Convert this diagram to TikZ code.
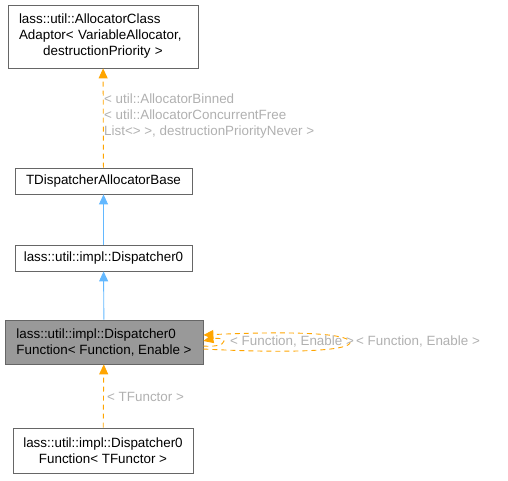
\documentclass[tikz,border=0pt]{standalone}
\usepackage{fontspec}
\setmainfont{Liberation Sans}
\usetikzlibrary{arrows.meta}

\definecolor{edgeorange}{HTML}{FFA500}
\definecolor{edgeblue}{HTML}{63B8FF}
\definecolor{labelgray}{HTML}{B0B0B0}
\definecolor{boxgray}{HTML}{999999}
\definecolor{boxline}{HTML}{666666}

\begin{document}
\begin{tikzpicture}[x=1pt, y=-1pt,
        font=\fontsize{13.4}{16}\selectfont,
        cls/.style={draw=boxline, fill=white, line width=0.8pt, inner ysep=2pt},
        lcls/.style={cls, align=left, inner xsep=11pt},
        tmpl/.style={edgeorange, dashed, line width=0.9pt, dash pattern=on 5pt off 4pt,
            -{Triangle[length=10pt, width=9pt]}},
        inh/.style={edgeblue, line width=0.9pt, -{Triangle[length=10pt, width=9pt]}},
        lbl/.style={text=labelgray, align=left, inner sep=1pt, anchor=west}]
    \useasboundingbox (0, 0) rectangle (508, 480);

    % classes
    \node[lcls, text width=168pt, minimum height=63pt] (adaptor) at (103, 36.5)
        {lass::util::AllocatorClass\\Adaptor< VariableAllocator,\\
         \hspace*{\fill}destructionPriority >\hspace*{\fill}\null};
    \node[cls, minimum width=177pt, minimum height=26pt] (allocbase) at (103.5, 181)
        {TDispatcherAllocatorBase};
    \node[cls, minimum width=177pt, minimum height=26pt] (dispatcher) at (103.5, 258)
        {lass::util::impl::Dispatcher0};
    \node[lcls, fill=boxgray, minimum width=198pt, minimum height=44pt] (dispfunc) at (104, 342)
        {lass::util::impl::Dispatcher0\\Function< Function, Enable >};
    \node[cls, align=center, minimum width=180pt, minimum height=45pt] (dispfunctor) at (103, 450.5)
        {lass::util::impl::Dispatcher0\\Function< TFunctor >};

    % edges
    \draw[tmpl] (allocbase) -- (adaptor);
    \draw[inh] (dispatcher) -- (allocbase);
    \draw[inh] (dispfunc) -- (dispatcher);
    \draw[tmpl] (dispfunctor) -- (dispfunc);
    \draw[tmpl] ([yshift=-4pt]dispfunc.east) .. controls (214, 347) and (224, 345) .. (224, 341)
        .. controls (224, 338) and (216, 338) .. ([yshift=1pt]dispfunc.east);
    \draw[tmpl] ([yshift=-7pt]dispfunc.east) .. controls (300, 354) and (352, 350) .. (350, 342)
        .. controls (348, 333) and (290, 331) .. ([yshift=7pt]dispfunc.east);

    % template arguments
    \node[lbl] (adaptorargs) at (103, 116)
        {< util::AllocatorBinned\\< util::AllocatorConcurrentFree\\List<> >, destructionPriorityNever >};
    \node[lbl] (functorargs) at (106, 397) {< TFunctor >};
    \node[lbl] (selfargs) at (229, 341) {< Function, Enable >};
    \node[lbl] (selfargsb) at (355, 341) {< Function, Enable >};
\end{tikzpicture}
\end{document}
